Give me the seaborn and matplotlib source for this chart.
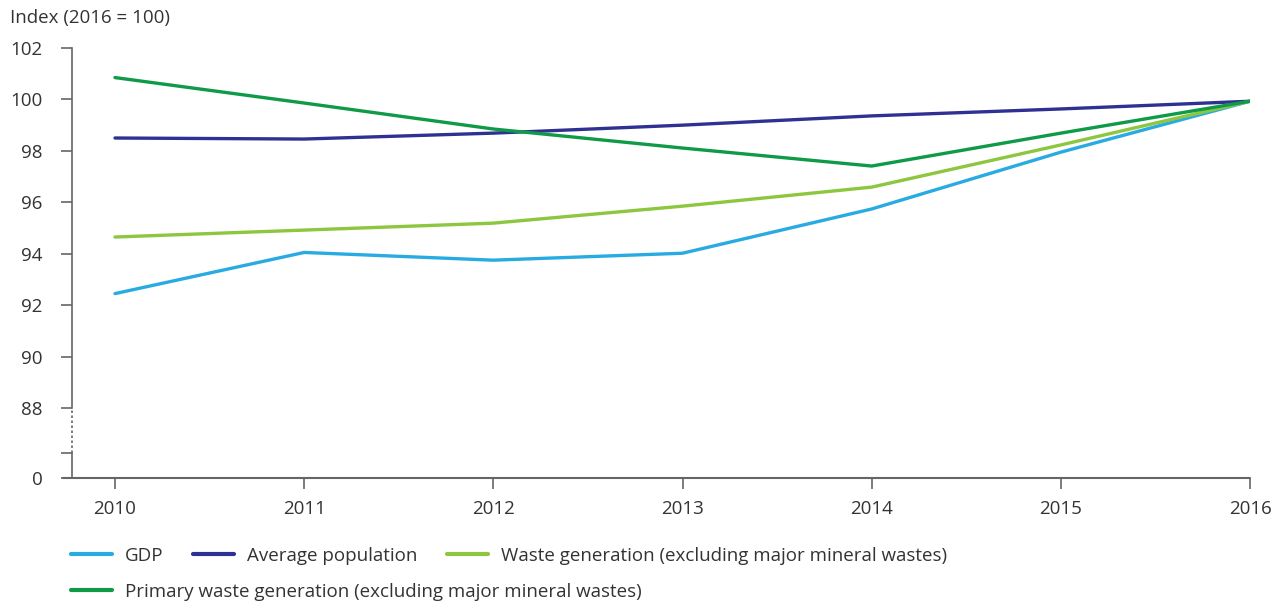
import numpy as np
import pandas as pd
import matplotlib
matplotlib.use("Agg")
import matplotlib.pyplot as plt
from matplotlib.lines import Line2D
import seaborn as sns

# data
years = [2010, 2011, 2012, 2013, 2014, 2015, 2016]
gdp = [92.45, 94.05, 93.75, 94.02, 95.74, 97.95, 99.93]
population = [98.50, 98.46, 98.69, 99.00, 99.36, 99.63, 99.93]
waste = [94.65, 94.92, 95.19, 95.85, 96.59, 98.23, 99.93]
primary_waste = [100.85, 99.86, 98.85, 98.11, 97.41, 98.69, 99.93]

series_names = ["GDP", "Average population",
                "Waste generation (excluding major mineral wastes)",
                "Primary waste generation (excluding major mineral wastes)"]
colors = ["#29abe2", "#2e3192", "#8dc63f", "#0f9a48"]

y_ticks = [88, 90, 92, 94, 96, 98, 100, 102]

# broken axis: "0" sits below 88 on a compressed stretch
zero_pos = 85.28
break_pos = 86.25

df = pd.DataFrame({
    "year": years * 4,
    "value": gdp + population + waste + primary_waste,
    "series": sum([[n] * len(years) for n in series_names], []),
})

sns.set_theme(style="white")
plt.rcParams["font.family"] = ["Open Sans", "DejaVu Sans"]

fig = plt.figure(figsize=(12.81, 6.02), dpi=100)
W, H = 1281, 602
ax = fig.add_axes([72 / W, 1 - 478 / H, (1250 - 72) / W, (478 - 48) / H])

sns.lineplot(data=df, x="year", y="value", hue="series", palette=colors,
             hue_order=series_names, linewidth=2.4, legend=False, ax=ax)

px_per_year = (1250 - 115) / 6
ax.set_xlim(2010 - 43 / px_per_year, 2016)
ax.set_ylim(zero_pos, 102)

axis_col = "#666666"
text_col = "#333333"
fs = 13.5

ax.set_xticks(years)
ax.set_xticklabels([str(y) for y in years])
ax.set_yticks([zero_pos, break_pos] + y_ticks)
ax.set_yticklabels(["0", ""] + [str(t) for t in y_ticks])
ax.tick_params(axis="both", colors=axis_col, labelcolor=text_col,
               labelsize=fs, length=8, width=1.2, direction="out",
               bottom=True, left=True)
ax.tick_params(axis="y", pad=13)
ax.tick_params(axis="x", pad=8)
ax.set_xlabel("")
ax.set_ylabel("")

for s in ["top", "right"]:
    ax.spines[s].set_visible(False)
ax.spines["bottom"].set_visible(False)
ax.spines["left"].set_color(axis_col)
ax.spines["left"].set_linewidth(1.2)
ax.spines["left"].set_bounds(88, 102)

# lower part of the broken y axis
xl = ax.get_xlim()[0]
ax.plot([xl, xl], [zero_pos, break_pos], color=axis_col, lw=1.2, clip_on=False)
ax.plot([xl, xl], [break_pos, 88], color=axis_col, lw=1.2, ls=(0, (1.5, 1.5)), clip_on=False)

# bottom axis line, running slightly left of the y axis
ax.plot([-9 / (1250 - 72), 1], [0, 0], color=axis_col, lw=1.5,
        transform=ax.transAxes, clip_on=False)

fig.text(10 / W, 1 - 18 / H, "Index (2016 = 100)", fontsize=fs, color=text_col,
         ha="left", va="center")

handles = [Line2D([], [], color=c, lw=3) for c in colors]
leg_kw = dict(frameon=False, fontsize=fs, handlelength=2.2, handletextpad=0.7,
              columnspacing=1.55, borderaxespad=0, borderpad=0, labelcolor=text_col)
leg1 = fig.legend(handles[:3], series_names[:3], ncol=3, loc="center left",
                  bbox_to_anchor=(71 / W, 1 - 556 / H), **leg_kw)
leg2 = fig.legend(handles[3:], series_names[3:], ncol=1, loc="center left",
                  bbox_to_anchor=(71 / W, 1 - 592 / H), **leg_kw)

fig.savefig("out.png", dpi=100)
